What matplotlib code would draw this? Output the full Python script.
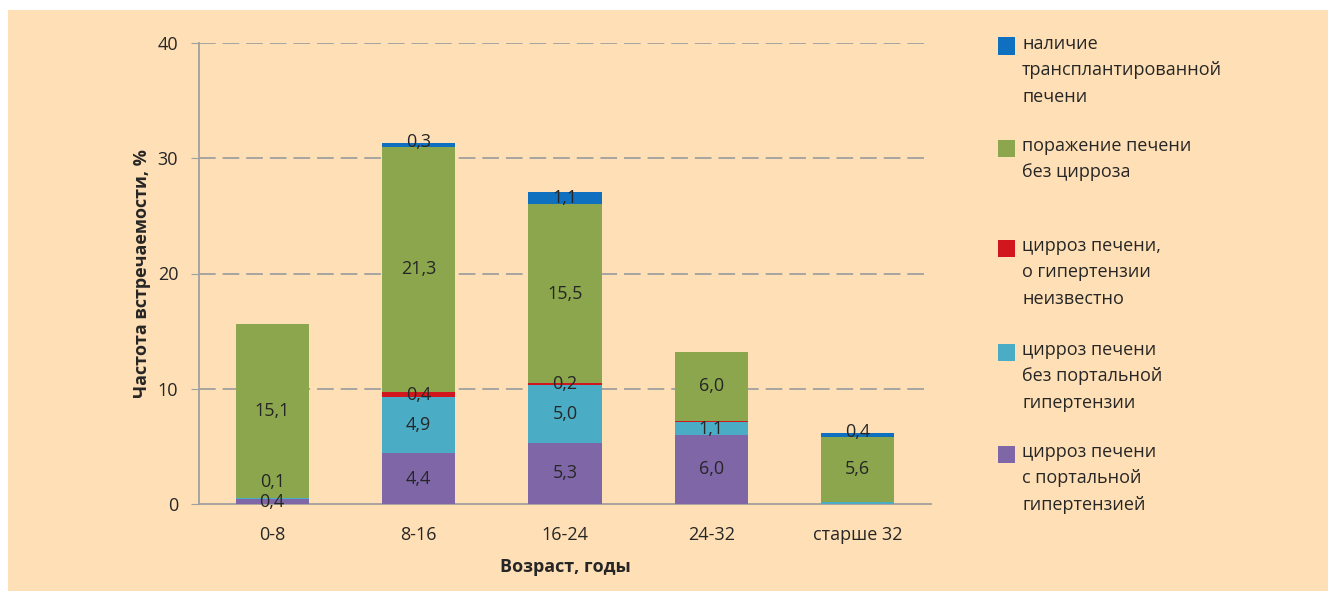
import matplotlib
matplotlib.use("Agg")
import matplotlib.pyplot as plt
import numpy as np
from matplotlib.patches import Rectangle

plt.rcParams['font.family'] = ['Open Sans', 'DejaVu Sans']
plt.rcParams['lines.scale_dashes'] = False

categories = ["0-8", "8-16", "16-24", "24-32", "старше 32"]
purple = [0.4, 4.4, 5.3, 6.0, 0.0]
cyan = [0.1, 4.9, 5.0, 1.1, 0.2]
red = [0.0, 0.4, 0.2, 0.1, 0.0]
green = [15.1, 21.3, 15.5, 6.0, 5.6]
blue = [0.0, 0.3, 1.1, 0.0, 0.4]

series_names = [
    "цирроз печени\nс портальной\nгипертензией",
    "цирроз печени\nбез портальной\nгипертензии",
    "цирроз печени,\nо гипертензии\nнеизвестно",
    "поражение печени\nбез цирроза",
    "наличие\nтрансплантированной\nпечени",
]
series = [purple, cyan, red, green, blue]
colors = ["#7F67A7", "#4BACC6", "#D2161E", "#8BA64C", "#0E70BE"]
# which segment values get a data label (per series, per category)
show_label = [
    [True, True, True, True, False],
    [True, True, True, True, False],
    [False, True, True, False, False],
    [True, True, True, True, True],
    [False, True, True, False, True],
]
# label vertical offsets in points (to avoid overlap)
label_offset = {(1, 0): 12, (4, 1): 2, (4, 4): 2}

bg = "#FFDFB5"
fig = plt.figure(figsize=(13.28, 5.91), dpi=100, facecolor="white")
fig.patches.append(Rectangle((8/1328, 0), 1, 1 - 10/591, transform=fig.transFigure,
                             facecolor=bg, edgecolor="none", zorder=-10))

ax = fig.add_axes([199/1328, 1 - 504/591, (931-199)/1328, (504-43)/591])
ax.set_facecolor(bg)
ax.patch.set_alpha(0)

x = np.arange(len(categories))
bottom = np.zeros(len(categories))
text_color = "#262626"
fs = 13
for si, (vals, col) in enumerate(zip(series, colors)):
    vals = np.array(vals)
    ax.bar(x, vals, width=0.5, bottom=bottom, color=col, zorder=3)
    for ci, v in enumerate(vals):
        if show_label[si][ci] and v > 0:
            off = label_offset.get((si, ci), 0)
            ax.annotate(f"{v:.1f}".replace(".", ","), (x[ci], bottom[ci] + v / 2),
                        xytext=(0, off), textcoords="offset points",
                        ha="center", va="center", fontsize=fs, color=text_color, zorder=5)
    bottom += vals

ax.set_xlim(-0.5, len(categories) - 0.5)
ax.set_ylim(0, 40)
ax.set_yticks([0, 10, 20, 30, 40])
ax.set_xticks(x)
ax.set_xticklabels(categories, fontsize=fs, color=text_color)
ax.tick_params(axis="y", labelsize=fs, labelcolor=text_color, length=6, color="#A0A0A0", pad=9)
ax.tick_params(axis="x", length=0, pad=16)
for yv in [10, 20, 30, 40]:
    ax.axhline(yv, color="#A0A0A0", lw=1.3, linestyle=(0, (12, 5)), zorder=1)
for s in ["top", "right"]:
    ax.spines[s].set_visible(False)
ax.spines["left"].set_color("#A0A0A0")
ax.spines["bottom"].set_color("#A0A0A0")
ax.spines["left"].set_linewidth(1.3)
ax.spines["bottom"].set_linewidth(1.3)
ax.set_ylabel("Частота встречаемости, %", fontsize=fs, fontweight="bold", color=text_color, labelpad=5)
ax.set_xlabel("Возраст, годы", fontsize=fs, fontweight="bold", color=text_color, labelpad=10)

# legend (top to bottom: blue, green, red, cyan, purple)
leg_y = [46, 148, 248, 352, 454]
for i, si in enumerate([4, 3, 2, 1, 0]):
    yc = leg_y[i]
    fig.patches.append(Rectangle((998/1328, 1 - (yc + 8.5)/591), 17/1328, 17/591,
                                 transform=fig.transFigure, facecolor=colors[si],
                                 edgecolor="none"))
    fig.text(1022/1328, 1 - (yc - 11)/591, series_names[si], fontsize=fs,
             color=text_color, ha="left", va="top", linespacing=1.6)

fig.savefig("out.png", dpi=100, facecolor="white")
